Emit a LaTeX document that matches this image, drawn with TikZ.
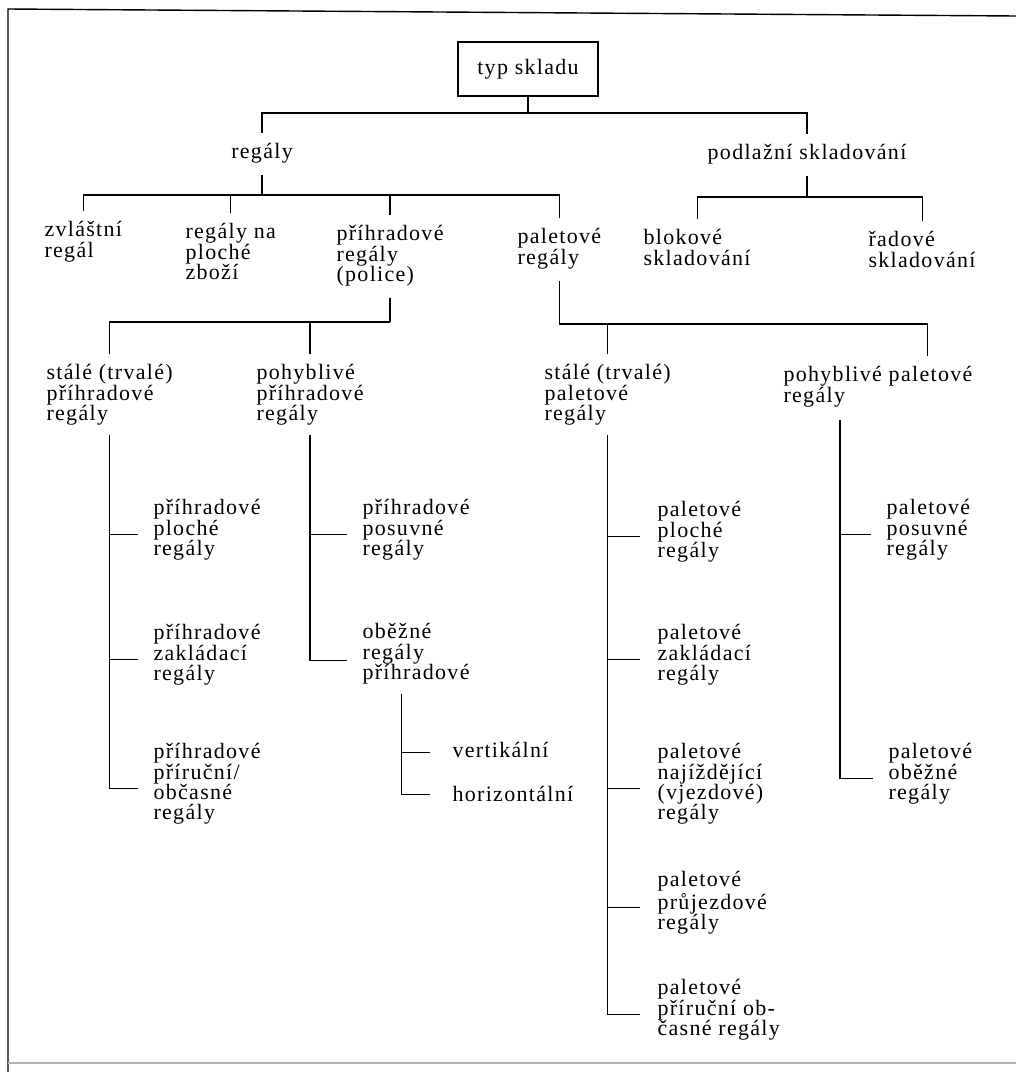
\documentclass[tikz,border=0pt]{standalone}
\usepackage{fontspec}
\setmainfont{Liberation Serif}[LetterSpace=6]
\usepackage{tikz}

\tikzset{
	lbl/.style={align=left, inner sep=0pt, font=\fontsize{12.5}{11.6}\selectfont},
	dropline/.style={shorten >=5.5pt},
	stemline/.style={shorten <=6.5pt},
	branchline/.style={shorten >=8.5pt},
}

\begin{document}
\begin{tikzpicture}[x=0.02cm, y=-0.02cm, line width=0.6pt]
			\useasboundingbox (0,0) rectangle (1016,1072);
			% frame of the page
			\draw[line width=0.8pt] (1016,16) -- (8,9) -- (8,1072);
			\draw[gray!60] (8,1063) -- (1016,1063);
			% root
			\node[lbl, draw, line width=0.9pt, align=center, minimum width=80pt, minimum height=31pt] (typ) at (528,69) {typ skladu};
			\node[lbl, anchor=north] (regaly) at (262,143) {regály};
			\node[lbl, anchor=north] (podlazni) at (807,144) {podlažní skladování};
			% second row
			\node[lbl, anchor=north west] (zvlastni) at (44,221) {zvláštní\\regál};
			\node[lbl, anchor=north west] (plzbozi) at (185,223) {regály na\\ploché\\zboží};
			\node[lbl, anchor=north west] (prihrad) at (336,225) {příhradové\\regály\\(police)};
			\node[lbl, anchor=north west] (paletove) at (517,228) {paletové\\regály};
			\node[lbl, anchor=north west] (blokove) at (643,229) {blokové\\skladování};
			\node[lbl, anchor=north west] (radove) at (868,231) {řadové\\skladování};
			% third row
			\node[lbl, anchor=north west] (stpri) at (46,364) {stálé (trvalé)\\příhradové\\regály};
			\node[lbl, anchor=north west] (pohpri) at (256,364) {pohyblivé\\příhradové\\regály};
			\node[lbl, anchor=north west] (stpal) at (544,364) {stálé (trvalé)\\paletové\\regály};
			\node[lbl, anchor=north west] (pohpal) at (783,366) {pohyblivé paletové\\regály};
			% leaves
			\node[lbl, anchor=north west] (pripl) at (153,499) {příhradové\\ploché\\regály};
			\node[lbl, anchor=north west] (prizak) at (153,624) {příhradové\\zakládací\\regály};
			\node[lbl, anchor=north west] (priruc) at (153,743) {příhradové\\příruční/\\občasné\\regály};
			\node[lbl, anchor=north west] (priposuv) at (362,499) {příhradové\\posuvné\\regály};
			\node[lbl, anchor=north west] (obezne) at (362,623) {oběžné\\regály\\příhradové};
			\node[lbl, anchor=north west] (vert) at (452,742) {vertikální};
			\node[lbl, anchor=north west] (horiz) at (452,786) {horizontální};
			\node[lbl, anchor=north west] (palpl) at (657,501) {paletové\\ploché\\regály};
			\node[lbl, anchor=north west] (palzak) at (657,624) {paletové\\zakládací\\regály};
			\node[lbl, anchor=north west] (palnaj) at (657,743) {paletové\\najíždějící\\(vjezdové)\\regály};
			\node[lbl, anchor=north west] (palpruj) at (657,871) {paletové\\průjezdové\\regály};
			\node[lbl, anchor=north west] (palpriruc) at (657,979) {paletové\\příruční ob-\\časné regály};
			\node[lbl, anchor=north west] (palposuv) at (886,499) {paletové\\posuvné\\regály};
			\node[lbl, anchor=north west] (palobez) at (888,743) {paletové\\oběžné\\regály};
			% bars below typ skladu
			\coordinate (j0) at (typ.south |- 0,113);
			\draw (typ.south) -- (j0);
			\draw[dropline] (j0) -| (regaly.north);
			\draw[dropline] (j0) -| (podlazni.north);
			% regaly
			\coordinate (j1) at (regaly.south |- 0,195);
			\draw[stemline] (regaly.south) -- (j1);
			\foreach \n in {zvlastni,plzbozi,prihrad,paletove}
				\draw[dropline] (j1) -| (\n.north);
			% podlazni skladovani
			\coordinate (j2) at (podlazni.south |- 0,197);
			\draw[stemline] (podlazni.south) -- (j2);
			\foreach \n in {blokove,radove}
				\draw[dropline] (j2) -| (\n.north);
			% prihradove regaly
			\coordinate (j3) at (prihrad.south |- 0,322);
			\draw[stemline] (prihrad.south) -- (j3);
			\foreach \n in {stpri,pohpri}
				\draw[dropline] (j3) -| (\n.north);
			% paletove regaly
			\coordinate (j4) at (paletove.south |- 0,324);
			\draw[stemline] (paletove.south) -- (j4);
			\draw[dropline] (j4) -| (stpal.north);
			\draw[dropline] (j4) -| ([xshift=28pt]pohpal.north);
			% trunk of stale prihradove
			\coordinate (t1) at ([yshift=-5pt]stpri.south);
			\foreach \n in {pripl,prizak} {
				\coordinate (p) at ([yshift=-2.5pt]\n.west);
				\draw[branchline] (t1 |- p) -- (p);
			}
			\coordinate (p) at ([yshift=-2.5pt]priruc.west);
			\draw[branchline] (t1) |- (p);
			% trunk of pohyblive prihradove
			\coordinate (t2) at ([yshift=-5pt]pohpri.south);
			\coordinate (p) at ([yshift=-2.5pt]priposuv.west);
			\draw[branchline] (t2 |- p) -- (p);
			\coordinate (p) at ([yshift=-3.5pt]obezne.west);
			\draw[branchline] (t2) |- (p);
			% obezne: vertikalni / horizontalni
			\coordinate (t3) at ([xshift=-8pt,yshift=-5.5pt]obezne.south);
			\coordinate (p) at ([yshift=-1pt]vert.west);
			\draw[branchline, shorten >=12.5pt] (t3 |- p) -- (p);
			\draw[branchline, shorten >=12.5pt] (t3) |- (horiz.west);
			% trunk of stale paletove
			\coordinate (t4) at ([yshift=-5pt]stpal.south);
			\foreach \n in {palpl,palzak,palnaj,palpruj} {
				\coordinate (p) at ([yshift=-2.5pt]\n.west);
				\draw[branchline, shorten >=9.5pt] (t4 |- p) -- (p);
			}
			\coordinate (p) at ([yshift=-2.5pt]palpriruc.west);
			\draw[branchline, shorten >=9.5pt] (t4) |- (p);
			% trunk of pohyblive paletove
			\coordinate (t5) at ([xshift=-21.6pt,yshift=-7pt]pohpal.south);
			\coordinate (p) at ([yshift=-2.5pt]palposuv.west);
			\draw[branchline] (t5 |- p) -- (p);
			\coordinate (p) at ([yshift=-2.5pt]palobez.west);
			\draw[branchline] (t5) |- (p);
\end{tikzpicture}
\end{document}
